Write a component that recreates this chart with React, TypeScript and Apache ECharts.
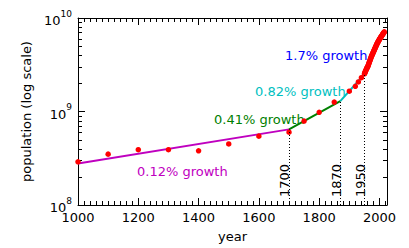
import React, { useEffect, useRef } from 'react';
import * as echarts from 'echarts';

const FONT = 'DejaVu Sans';

// Historical estimates (red dots)
const histYears = [1000, 1100, 1200, 1300, 1400, 1500, 1600, 1700, 1750, 1800, 1850, 1900, 1920, 1930, 1940];
const histPop = [2.9e8, 3.5e8, 3.9e8, 3.9e8, 3.8e8, 4.5e8, 5.45e8, 6.0e8, 7.9e8, 9.8e8, 1.26e9, 1.65e9, 1.86e9, 2.07e9, 2.3e9];

// Yearly estimates 1950-2016 (red dots), in billions
const modernYears = [
  1950, 1951, 1952, 1953, 1954, 1955, 1956, 1957, 1958, 1959,
  1960, 1961, 1962, 1963, 1964, 1965, 1966, 1967, 1968, 1969,
  1970, 1971, 1972, 1973, 1974, 1975, 1976, 1977, 1978, 1979,
  1980, 1981, 1982, 1983, 1984, 1985, 1986, 1987, 1988, 1989,
  1990, 1991, 1992, 1993, 1994, 1995, 1996, 1997, 1998, 1999,
  2000, 2001, 2002, 2003, 2004, 2005, 2006, 2007, 2008, 2009,
  2010, 2011, 2012, 2013, 2014, 2015, 2016,
];
const modernPopBn = [
  2.525, 2.572, 2.619, 2.665, 2.712, 2.758, 2.806, 2.855, 2.905, 2.946,
  2.982, 3.020, 3.074, 3.142, 3.210, 3.278, 3.347, 3.416, 3.486, 3.558,
  3.632, 3.707, 3.781, 3.854, 3.926, 3.996, 4.065, 4.133, 4.202, 4.272,
  4.344, 4.419, 4.496, 4.574, 4.651, 4.729, 4.810, 4.893, 4.977, 5.061,
  5.145, 5.228, 5.309, 5.389, 5.468, 5.545, 5.621, 5.697, 5.771, 5.845,
  5.917, 5.988, 6.059, 6.130, 6.201, 6.273, 6.345, 6.418, 6.492, 6.567,
  6.644, 6.719, 6.795, 6.872, 6.949, 7.026, 7.104,
];

// Growth segments: [year, population] end points
const segMagenta = [[1000, 2.78e8], [1700, 6.44e8]];
const segGreen = [[1700, 6.44e8], [1870, 1.29e9]];
const segCyan = [[1870, 1.29e9], [1950, 2.5e9]];
const segBlue = [[1950, 2.5e9], [2016, 7.4e9]];

// Vertical marker lines
const markerYears = [1700, 1870, 1950];
const markerTops = [6.44e8, 1.29e9, 2.5e9];

const minorYTicks = [2e8, 3e8, 4e8, 5e8, 6e8, 7e8, 8e8, 9e8, 2e9, 3e9, 4e9, 5e9, 6e9, 7e9, 8e9, 9e9];

const X_MIN = 1000;
const X_MAX = 2025;

export default function App() {
  const ref = useRef<HTMLDivElement>(null);

  useEffect(() => {
    document.body.style.margin = '0';
    if (!ref.current) return;
    const chart = echarts.init(ref.current, undefined, { renderer: 'svg' });

    const dots = [
      ...histYears.map((y, i) => [y, histPop[i]]),
      ...modernYears.map((y, i) => [y, modernPopBn[i] * 1e9]),
    ];

    const xBase = {
      type: 'value',
      min: X_MIN,
      max: X_MAX,
      splitLine: { show: false },
      axisLine: { show: false, onZero: false },
    };

    const lineSeries = (data: number[][], color: string, extra: any = {}) => ({
      type: 'line',
      data,
      showSymbol: false,
      symbol: 'none',
      lineStyle: { color, width: 2 },
      z: 2,
      silent: true,
      ...extra,
    });

    const option: any = {
      animation: false,
      grid: { left: 78, right: 22, top: 18, bottom: 38, containLabel: false },
      xAxis: [
        {
          ...xBase,
          position: 'bottom',
          interval: 20,
          axisLine: { show: true, onZero: false, lineStyle: { color: '#000', width: 1 } },
          axisTick: { inside: true, length: 4, lineStyle: { color: '#000' } },
          axisLabel: { show: false },
        },
        {
          ...xBase,
          position: 'bottom',
          interval: 200,
          axisTick: { inside: true, length: 7, lineStyle: { color: '#000' } },
          axisLabel: {
            formatter: (v: number) => (v % 200 === 0 ? String(v) : ''),
            fontSize: 13,
            color: '#000',
            fontFamily: FONT,
            margin: 6,
            showMaxLabel: false,
          },
          name: 'year',
          nameLocation: 'middle',
          nameGap: 25,
          nameTextStyle: { fontSize: 13, color: '#000', fontFamily: FONT },
        },
        {
          ...xBase,
          position: 'top',
          interval: 20,
          axisLine: { show: true, onZero: false, lineStyle: { color: '#000', width: 1 } },
          axisTick: { inside: true, length: 4, lineStyle: { color: '#000' } },
          axisLabel: { show: false },
        },
        {
          ...xBase,
          position: 'top',
          interval: 200,
          axisTick: { inside: true, length: 7, lineStyle: { color: '#000' } },
          axisLabel: { show: false },
        },
      ],
      yAxis: [
        {
          type: 'log',
          logBase: 10,
          min: 1e8,
          max: 1e10,
          position: 'left',
          splitLine: { show: false },
          axisLine: { show: true, onZero: false, lineStyle: { color: '#000', width: 1 } },
          axisTick: { inside: true, length: 7, lineStyle: { color: '#000' } },
          axisLabel: {
            formatter: (v: number) => `{b|10}{s|${Math.round(Math.log10(v))}}`,
            margin: 6,
            rich: {
              b: { fontSize: 13, fontFamily: FONT, color: '#000', padding: [5, 0, 0, 0], verticalAlign: 'bottom' },
              s: { fontSize: 9, fontFamily: FONT, color: '#000', verticalAlign: 'top' },
            },
          },
          name: 'population (log scale)',
          nameLocation: 'middle',
          nameGap: 45,
          nameTextStyle: { fontSize: 13, color: '#000', fontFamily: FONT },
        },
        {
          type: 'log',
          logBase: 10,
          min: 1e8,
          max: 1e10,
          position: 'right',
          splitLine: { show: false },
          axisLine: { show: true, onZero: false, lineStyle: { color: '#000', width: 1 } },
          axisTick: { inside: true, length: 7, lineStyle: { color: '#000' } },
          axisLabel: { show: false },
        },
      ],
      series: [
        {
          type: 'custom',
          silent: true,
          xAxisIndex: 0,
          yAxisIndex: 0,
          data: minorYTicks.map((v) => [X_MIN, v]),
          encode: { x: 0, y: 1 },
          renderItem: (params: any, api: any) => {
            const cs = params.coordSys;
            const y = Math.round(api.coord([X_MIN, api.value(1)])[1]) + 0.5;
            return {
              type: 'group',
              children: [
                { type: 'line', shape: { x1: cs.x, y1: y, x2: cs.x + 4, y2: y }, style: { stroke: '#000', lineWidth: 1 } },
                { type: 'line', shape: { x1: cs.x + cs.width - 4, y1: y, x2: cs.x + cs.width, y2: y }, style: { stroke: '#000', lineWidth: 1 } },
              ],
            };
          },
          z: 1,
        },
        lineSeries(segMagenta, '#bf00bf', {
          markLine: {
            silent: true,
            symbol: ['none', 'none'],
            label: { show: false },
            lineStyle: { color: '#000', width: 1, type: [1, 2] },
            data: markerYears.map((yr, i) => [{ coord: [yr, 1e8] }, { coord: [yr, markerTops[i]] }]),
          },
        }),
        lineSeries(segGreen, '#008000'),
        lineSeries(segCyan, '#00bfbf'),
        lineSeries(segBlue, '#0000ff'),
        {
          type: 'scatter',
          data: dots,
          symbol: 'circle',
          symbolSize: 5.5,
          itemStyle: { color: '#ff0000', opacity: 1 },
          z: 3,
          silent: true,
        },
      ],
      graphic: [
        { type: 'text', x: 137, y: 171.5, style: { text: '0.12% growth', fill: '#bf00bf', font: `13px "${FONT}"`, textAlign: 'left', textVerticalAlign: 'middle' } },
        { type: 'text', x: 214, y: 119, style: { text: '0.41% growth', fill: '#008000', font: `13px "${FONT}"`, textAlign: 'left', textVerticalAlign: 'middle' } },
        { type: 'text', x: 255, y: 91, style: { text: '0.82% growth', fill: '#00bfbf', font: `13px "${FONT}"`, textAlign: 'left', textVerticalAlign: 'middle' } },
        { type: 'text', x: 285, y: 55, style: { text: '1.7% growth', fill: '#0000ff', font: `13px "${FONT}"`, textAlign: 'left', textVerticalAlign: 'middle' } },
        ...markerYears.map((yr, i) => ({
          type: 'text',
          x: [284, 336, 360][i],
          y: 197,
          rotation: Math.PI / 2,
          style: { text: String(yr), fill: '#000', font: `13px "${FONT}"`, textAlign: 'left', textVerticalAlign: 'middle' },
        })),
      ],
    };

    chart.setOption(option);
    return () => chart.dispose();
  }, []);

  return <div ref={ref} style={{ width: 409, height: 248 }} />;
}
